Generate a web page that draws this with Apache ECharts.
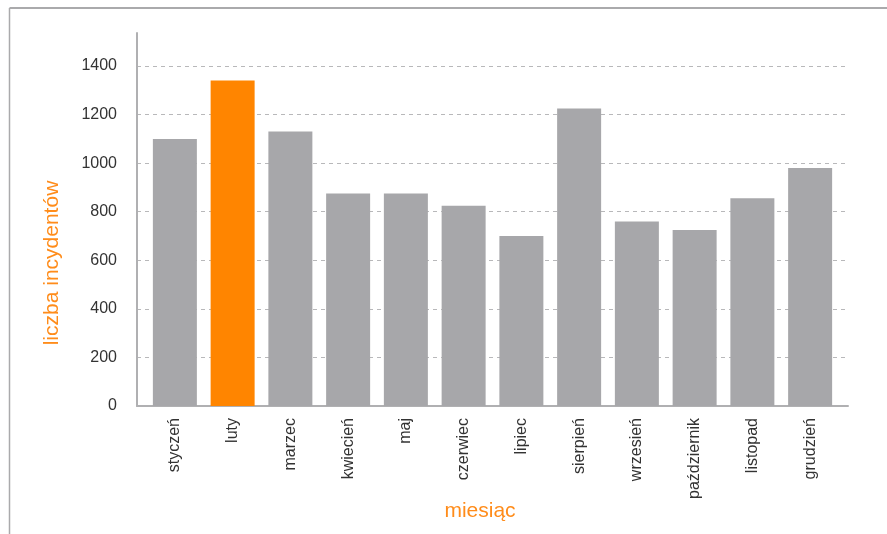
<!DOCTYPE html>
<html>
<head>
<meta charset="utf-8">
<script src="https://cdn.jsdelivr.net/npm/echarts@6/dist/echarts.min.js"></script>
<style>html,body{margin:0;padding:0;background:#fff;}#c{width:887px;height:534px;}</style>
</head>
<body>
<div id="c"></div>
<script>
var months = ['styczeń','luty','marzec','kwiecień','maj','czerwiec','lipiec','sierpień','wrzesień','październik','listopad','grudzień'];
var incidents = [1100,1340,1130,875,875,825,700,1225,760,725,855,980];
var highlightIndex = 1;
var yTicks = [0,200,400,600,800,1000,1200,1400];
var yAxisTitle = 'liczba incydentów';
var xAxisTitle = 'miesiąc';

var chart = echarts.init(document.getElementById('c'), null, {renderer:'canvas'});
var FONT = '"Liberation Sans", Arial, Helvetica, sans-serif';
var AXIS_COLOR = '#b0b0b2';
var option = {
  animation: false,
  backgroundColor: '#fff',
  grid: [
    {left: 137, right: 39, top: 33, bottom: 128, containLabel: false},
    {left: 146, right: 48, top: 33, bottom: 128, containLabel: false}
  ],
  xAxis: [
    {
      gridIndex: 0, type: 'category', data: months,
      axisLine: {show: true, lineStyle: {color: AXIS_COLOR, width: 2}},
      axisTick: {show: false}, axisLabel: {show: false}, splitLine: {show: false}
    },
    {
      gridIndex: 1, type: 'category', data: months,
      axisLine: {show: false}, axisTick: {show: false},
      axisLabel: {rotate: 90, margin: 12, fontSize: 16, color: '#333', fontFamily: FONT, interval: 0}
    }
  ],
  yAxis: [
    {
      gridIndex: 0, type: 'value', min: 0, max: 1536, interval: 200,
      axisLine: {show: true, lineStyle: {color: AXIS_COLOR, width: 2}},
      axisTick: {show: false},
      axisLabel: {margin: 20, fontSize: 16, color: '#333', fontFamily: FONT, showMaxLabel: false,
        formatter: function(v){ return yTicks.indexOf(v) >= 0 ? String(v) : ''; }},
      splitLine: {show: true, showMaxLine: false, showMinLine: false, lineStyle: {color: '#b8b8ba', type: [4,4], width: 1}}
    },
    {
      gridIndex: 1, type: 'value', min: 0, max: 1536, interval: 200, show: false,
      splitLine: {show: false}
    }
  ],
  series: [{
    type: 'bar', xAxisIndex: 1, yAxisIndex: 1,
    barWidth: 44,
    data: incidents.map(function(v, i){
      return {value: v, itemStyle: {color: i === highlightIndex ? '#ff8500' : '#a7a7aa'}};
    })
  }],
  graphic: [
    {type: 'line', shape: {x1: 9.5, y1: 8, x2: 887, y2: 8}, style: {stroke: '#aaaaac', lineWidth: 2}},
    {type: 'line', shape: {x1: 9.5, y1: 8, x2: 9.5, y2: 534}, style: {stroke: '#aaaaac', lineWidth: 1.5}},
    {type: 'text', x: 52, y: 263, rotation: Math.PI/2,
      style: {text: yAxisTitle, fill: '#ff8c1a', font: '21px ' + FONT, textAlign: 'center', textVerticalAlign: 'middle'}},
    {type: 'text', x: 480, y: 511,
      style: {text: xAxisTitle, fill: '#ff8c1a', font: '21px ' + FONT, textAlign: 'center', textVerticalAlign: 'middle'}}
  ]
};
chart.setOption(option);
</script>
</body>
</html>
